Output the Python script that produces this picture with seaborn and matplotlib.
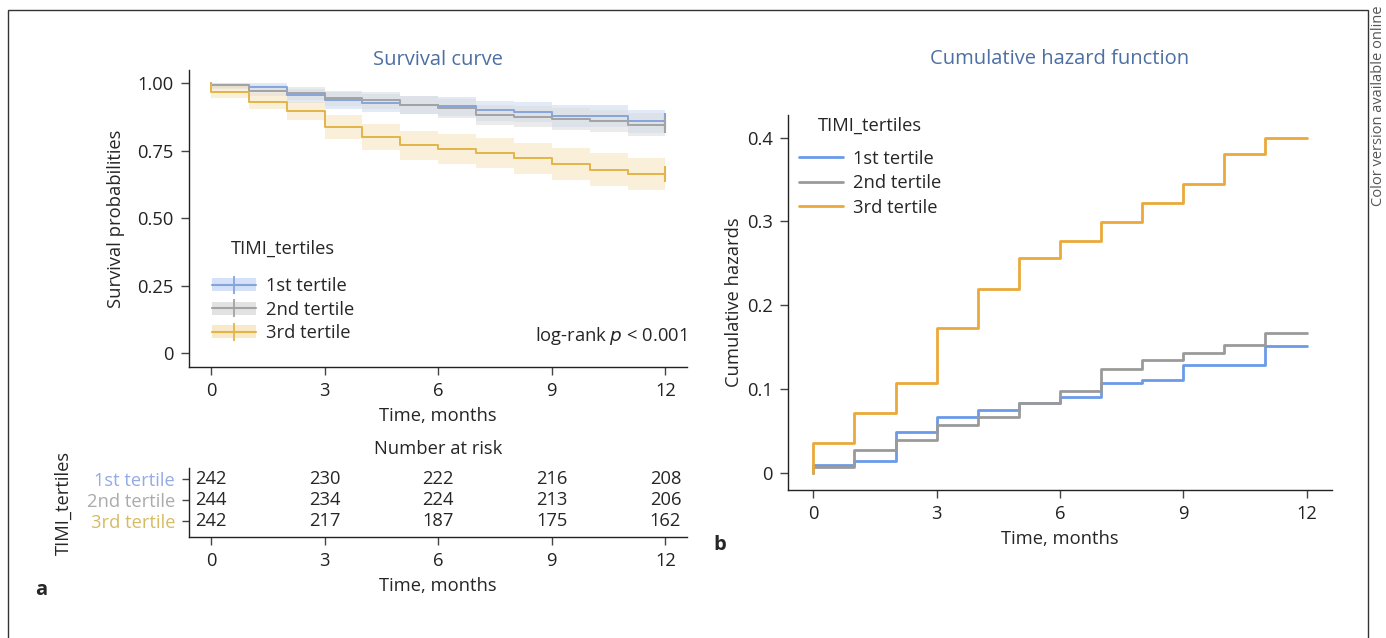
import numpy as np
import pandas as pd
import matplotlib
matplotlib.use("Agg")
import matplotlib.pyplot as plt
from matplotlib.patches import Patch, Rectangle
from matplotlib.lines import Line2D
import seaborn as sns

# ---------------- data ----------------
groups = ["1st tertile", "2nd tertile", "3rd tertile"]
months = [0, 1, 2, 3, 4, 5, 6, 7, 8, 9, 10, 11, 12]

surv_1st = [0.992, 0.986, 0.955, 0.937, 0.928, 0.920, 0.914, 0.899, 0.895, 0.879, 0.879, 0.860, 0.860]
surv_2nd = [0.993, 0.973, 0.962, 0.945, 0.936, 0.920, 0.908, 0.883, 0.875, 0.867, 0.859, 0.846, 0.846]
surv_3rd = [0.968, 0.932, 0.898, 0.838, 0.801, 0.770, 0.755, 0.740, 0.721, 0.700, 0.680, 0.664, 0.664]

lo_1st = [0.980, 0.970, 0.928, 0.905, 0.895, 0.885, 0.878, 0.861, 0.856, 0.838, 0.838, 0.817, 0.817]
hi_1st = [1.000, 0.999, 0.980, 0.966, 0.960, 0.953, 0.948, 0.935, 0.932, 0.918, 0.918, 0.901, 0.901]
lo_2nd = [0.983, 0.952, 0.937, 0.915, 0.905, 0.886, 0.872, 0.845, 0.836, 0.827, 0.818, 0.804, 0.804]
hi_2nd = [1.000, 0.992, 0.985, 0.973, 0.967, 0.953, 0.943, 0.921, 0.914, 0.907, 0.900, 0.888, 0.888]
lo_3rd = [0.945, 0.903, 0.862, 0.793, 0.752, 0.716, 0.700, 0.684, 0.663, 0.641, 0.620, 0.605, 0.605]
hi_3rd = [0.998, 0.963, 0.932, 0.882, 0.850, 0.823, 0.810, 0.797, 0.779, 0.760, 0.741, 0.724, 0.724]

haz_1st = [0.009, 0.014, 0.049, 0.066, 0.075, 0.083, 0.090, 0.107, 0.111, 0.129, 0.129, 0.151, 0.151]
haz_2nd = [0.007, 0.027, 0.039, 0.057, 0.066, 0.083, 0.097, 0.124, 0.134, 0.143, 0.153, 0.167, 0.167]
haz_3rd = [0.036, 0.071, 0.107, 0.173, 0.219, 0.256, 0.277, 0.299, 0.322, 0.345, 0.381, 0.400, 0.400]

risk_times = [0, 3, 6, 9, 12]
risk_1st = [242, 230, 222, 216, 208]
risk_2nd = [244, 234, 224, 213, 206]
risk_3rd = [242, 217, 187, 175, 162]

x_ticks = [0, 3, 6, 9, 12]
surv_ticks = [0, 0.25, 0.50, 0.75, 1.00]
surv_ticklabels = ["0", "0.25", "0.50", "0.75", "1.00"]
haz_ticks = [0, 0.1, 0.2, 0.3, 0.4]
haz_ticklabels = ["0", "0.1", "0.2", "0.3", "0.4"]

# ---------------- style ----------------
sns.set_theme(style="ticks")
plt.rcParams["font.family"] = ["Open Sans", "DejaVu Sans"]
plt.rcParams["axes.linewidth"] = 1.0
plt.rcParams["axes.edgecolor"] = "#222222"
plt.rcParams["xtick.color"] = "#444444"
plt.rcParams["ytick.color"] = "#444444"
plt.rcParams["xtick.labelcolor"] = "#222222"
plt.rcParams["ytick.labelcolor"] = "#222222"

FS = 13.2
title_color = "#4d6fa3"
surv_line = {"1st tertile": "#86a4dc", "2nd tertile": "#a3a3a3", "3rd tertile": "#e2b44a"}
surv_band = {"1st tertile": "#c6d7f3", "2nd tertile": "#d9d9d9", "3rd tertile": "#f6e2b6"}
haz_line = {"1st tertile": "#6b9be8", "2nd tertile": "#9a9a9a", "3rd tertile": "#eaa93a"}
risk_color = {"1st tertile": "#93abe6", "2nd tertile": "#ababab", "3rd tertile": "#d6bb62"}

W, H = 1386, 638
fig = plt.figure(figsize=(W / 100, H / 100), dpi=100)

def fx(px):
    return px / W

def fy(py):
    return 1 - py / H

ax1 = fig.add_axes([fx(189), fy(367), fx(687) - fx(189), fy(70) - fy(367)])
axr = fig.add_axes([fx(189), fy(537), fx(687) - fx(189), fy(468) - fy(537)])
ax2 = fig.add_axes([fx(788), fy(490), fx(1332) - fx(788), fy(115) - fy(490)])

# ---------------- survival ----------------
surv = {"1st tertile": surv_1st, "2nd tertile": surv_2nd, "3rd tertile": surv_3rd}
lo = {"1st tertile": lo_1st, "2nd tertile": lo_2nd, "3rd tertile": lo_3rd}
hi = {"1st tertile": hi_1st, "2nd tertile": hi_2nd, "3rd tertile": hi_3rd}
haz = {"1st tertile": haz_1st, "2nd tertile": haz_2nd, "3rd tertile": haz_3rd}

rows = []
for g in groups:
    rows.append({"group": g, "time": 0.0, "surv": 1.0, "haz": 0.0})
    for t, s, h in zip(months, surv[g], haz[g]):
        rows.append({"group": g, "time": float(t), "surv": s, "haz": h})
df = pd.DataFrame(rows)

for g in groups:
    ax1.fill_between(months, lo[g], hi[g], step="post", color=surv_band[g],
                     alpha=0.5, linewidth=0, zorder=1)

sns.lineplot(data=df, x="time", y="surv", hue="group", palette=surv_line,
             estimator=None, sort=False, drawstyle="steps-post", linewidth=1.4,
             legend=False, ax=ax1, zorder=3)
for g in groups:
    ax1.plot([months[-1]], [surv[g][-1]], marker="|", markersize=12,
             markeredgewidth=1.5, color=surv_line[g], linestyle="none", zorder=4)

ax1.set_xlim(-0.58, 12.57)
ax1.set_ylim(-0.052, 1.049)
ax1.set_xticks(x_ticks)
ax1.set_xticklabels([str(t) for t in x_ticks], fontsize=FS)
ax1.set_yticks(surv_ticks)
ax1.set_yticklabels(surv_ticklabels, fontsize=FS)
ax1.tick_params(length=6, width=1, pad=5)
ax1.set_xlabel("Time, months", fontsize=FS, labelpad=5)
ax1.set_ylabel("Survival probabilities", fontsize=FS, labelpad=9)
ax1.set_title("Survival curve", fontsize=14.5, color=title_color, pad=2)
sns.despine(ax=ax1)

handles = []
for g in groups:
    handles.append((Patch(facecolor=surv_band[g], edgecolor="none", alpha=0.75),
                    Line2D([], [], color=surv_line[g], lw=1.5, marker="|",
                           markersize=13, markeredgewidth=1.3)))
leg = ax1.legend(handles, groups, title="TIMI_tertiles", loc="lower left",
                 bbox_to_anchor=(0.02, 0.04), frameon=False, fontsize=FS,
                 title_fontsize=FS, handlelength=2.4, handletextpad=0.55,
                 labelspacing=0.3, borderaxespad=0.3)
leg._legend_box.sep = 14
ax1.text(0.998, 0.105, "log-rank $p$ < 0.001", transform=ax1.transAxes,
         ha="right", va="center", fontsize=FS)

# ---------------- number at risk ----------------
risk = {"1st tertile": risk_1st, "2nd tertile": risk_2nd, "3rd tertile": risk_3rd}
for i, g in enumerate(groups):
    for t, n in zip(risk_times, risk[g]):
        axr.text(t, i, str(n), ha="center", va="center", fontsize=FS)
axr.set_xlim(-0.58, 12.57)
axr.set_ylim(2.75, -0.5)
axr.set_yticks(range(len(groups)))
axr.set_yticklabels(groups, fontsize=FS)
for lab, g in zip(axr.get_yticklabels(), groups):
    lab.set_color(risk_color[g])
axr.set_xticks(x_ticks)
axr.set_xticklabels([str(t) for t in x_ticks], fontsize=FS)
axr.tick_params(length=6, width=1, pad=5)
axr.tick_params(axis="y", length=5, pad=5)
axr.set_xlabel("Time, months", fontsize=FS, labelpad=5)
axr.set_ylabel("TIMI_tertiles", fontsize=FS, labelpad=10)
axr.set_title("Number at risk", fontsize=FS, pad=10)
sns.despine(ax=axr)

# ---------------- cumulative hazard ----------------
sns.lineplot(data=df, x="time", y="haz", hue="group", palette=haz_line,
             estimator=None, sort=False, drawstyle="steps-post", linewidth=2.0,
             ax=ax2)
ax2.set_xlim(-0.616, 12.62)
ax2.set_ylim(-0.0207, 0.4272)
ax2.set_xticks(x_ticks)
ax2.set_xticklabels([str(t) for t in x_ticks], fontsize=FS)
ax2.set_yticks(haz_ticks)
ax2.set_yticklabels(haz_ticklabels, fontsize=FS)
ax2.tick_params(length=6, width=1, pad=5)
ax2.set_xlabel("Time, months", fontsize=FS, labelpad=5)
ax2.set_ylabel("Cumulative hazards", fontsize=FS, labelpad=3)
ax2.set_title("Cumulative hazard function", fontsize=14.5, color=title_color,
              pad=37)
sns.despine(ax=ax2)
leg2 = ax2.legend(title="TIMI_tertiles", loc="upper left",
                  bbox_to_anchor=(0.0, 1.025), frameon=False, fontsize=FS,
                  title_fontsize=FS, handlelength=2.4, handletextpad=0.55,
                  labelspacing=0.35, borderaxespad=0.2)
for ln in leg2.get_lines():
    ln.set_linewidth(2.0)
leg2._legend_box.sep = 11

# ---------------- panel letters, frame ----------------
fig.text(fx(35), fy(590), "a", fontsize=14.5, fontweight="bold", va="center")
fig.text(fx(713), fy(545), "b", fontsize=14.5, fontweight="bold", va="center")
fig.text(fx(1379), fy(106), "Color version available online", rotation=90,
         fontsize=10.5, color="#555555", ha="center", va="center")
fig.patches.append(Rectangle((fx(8), -0.02), fx(1368) - fx(8), fy(10) + 0.02,
                             transform=fig.transFigure, fill=False,
                             edgecolor="#333333", linewidth=1.0))

fig.savefig("out.png", dpi=100)
